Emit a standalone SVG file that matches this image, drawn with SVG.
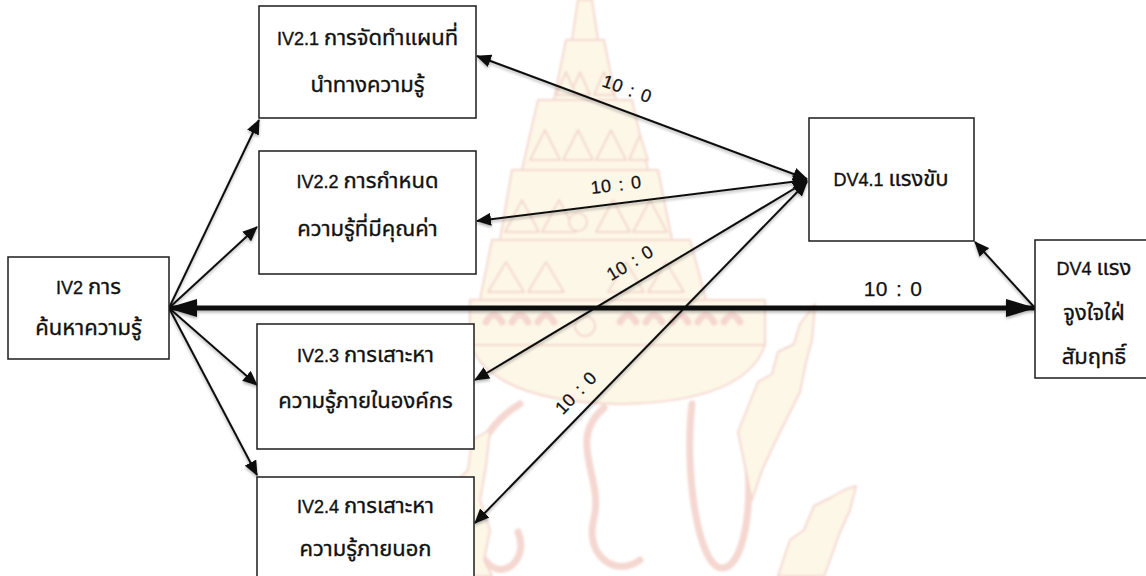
<svg xmlns="http://www.w3.org/2000/svg" width="1146" height="576" viewBox="0 0 1146 576">
  <style>
    .box { fill: #ffffff; stroke: #1c1c1c; stroke-width: 1.5; }
    .lbl { font-family: "Liberation Sans", "Noto Sans Thai", "Noto Sans", sans-serif; font-size: 18px; fill: #111111; stroke: #111111; stroke-width: 0.35px; text-anchor: middle; }
    .th { font-size: 22px; }
    .ratio { font-family: "Liberation Sans", "Noto Sans", sans-serif; font-size: 18px; fill: #111111; stroke: #111111; stroke-width: 0.25px; text-anchor: middle; letter-spacing: 0.3px; word-spacing: 2px; }
    .ratio.big { font-size: 21px; }
    .edge { fill: none; stroke: #111111; stroke-width: 2; }
    .edge.thick { stroke-width: 5; }
    .orn { fill: #fcf1d2; stroke: #eab0a0; stroke-width: 2; stroke-linejoin: round; }
    .orn-line { fill: none; stroke: #ebb0a2; stroke-width: 7; stroke-linecap: round; }
  </style>
  <defs>
    <marker id="head" viewBox="0 0 15 13" refX="14" refY="6.5" markerWidth="15" markerHeight="13" markerUnits="userSpaceOnUse" orient="auto-start-reverse">
      <path d="M0,0 L15,6.5 L0,13 z" fill="#111111"/>
    </marker>
    <marker id="bighead" viewBox="0 0 30 18" refX="29" refY="9" markerWidth="30" markerHeight="18" markerUnits="userSpaceOnUse" orient="auto-start-reverse">
      <path d="M0,0 L30,9 L0,18 z" fill="#111111"/>
    </marker>
    <filter id="shade" x="-5%" y="-20%" width="110%" height="140%">
      <feGaussianBlur in="SourceAlpha" stdDeviation="1.5"/>
      <feOffset dx="0" dy="2" result="b"/>
      <feComponentTransfer><feFuncA type="linear" slope="0.3"/></feComponentTransfer>
      <feMerge><feMergeNode/><feMergeNode in="SourceGraphic"/></feMerge>
    </filter>
    <filter id="soft"><feGaussianBlur stdDeviation="0.8"/></filter>
  </defs>

  <rect width="1146" height="576" fill="#ffffff"/>

  <!-- faded emblem in the background -->
  <g id="emblem" opacity="0.5" filter="url(#soft)">
    <polygon class="orn" points="578,0 592,0 598,40 572,40"/>
    <polygon class="orn" points="554,100 566,40 604,40 616,100"/>
    <polygon class="orn" points="522,170 538,100 632,100 648,170"/>
    <polygon class="orn" points="500,240 512,170 658,170 672,240"/>
    <polygon class="orn" points="480,300 492,240 690,240 706,300"/>
    <g class="orn">
      <polygon points="570,95 580,72 590,95"/>
      <polygon points="594,95 604,72 614,95"/>
      <polygon points="556,95 566,72 576,95"/>
      <polygon points="530,160 545,130 560,160"/>
      <polygon points="563,160 578,130 593,160"/>
      <polygon points="596,160 611,130 626,160"/>
      <polygon points="629,160 640,135 648,160"/>
      <polygon points="505,232 522,200 539,232"/>
      <polygon points="542,232 559,200 576,232"/>
      <polygon points="596,232 613,200 630,232"/>
      <polygon points="633,232 650,200 667,232"/>
      <polygon points="488,292 506,262 524,292"/>
      <polygon points="528,292 546,262 564,292"/>
      <polygon points="608,292 626,262 644,292"/>
      <polygon points="648,292 666,262 684,292"/>
    </g>
    <circle class="orn" cx="578" cy="222" r="9"/>
    <rect class="orn" x="470" y="300" width="295" height="45"/>
    <path class="orn" d="M470,345 L765,345 Q745,402 620,404 Q495,402 470,345 Z"/>
    <circle class="orn" cx="585" cy="326" r="10"/>
    <path class="orn-line" d="M486,322 q8,-14 16,0 M512,322 q8,-14 16,0 M538,322 q8,-14 16,0 M620,322 q8,-14 16,0 M646,322 q8,-14 16,0 M672,322 q8,-14 16,0 M698,322 q8,-14 16,0 M724,322 q8,-14 16,0" stroke-width="3"/>
    <path class="orn-line" d="M692,404 C684,470 698,568 722,568 C748,568 756,480 742,432"/>
    <polygon class="orn" points="738,432 758,382 772,374 778,352 794,344 800,324 815,304 812,340 806,362 800,392 790,412 776,440 762,470 752,500"/>
    <polygon class="orn" points="778,576 790,540 804,530 814,506 830,498 844,490 856,486 850,510 840,532 830,560 824,576"/>
    <path class="orn-line" d="M604,408 C566,440 604,478 594,518 C584,556 616,578 640,560"/>
    <path class="orn-line" d="M520,404 C472,432 452,500 482,556 C500,586 530,560 518,532"/>
    <polygon class="orn" points="452,576 446,540 458,512 452,486 468,470 472,440 490,430 486,466 480,500 490,530 484,560 492,576"/>
  </g>

  <!-- connectors -->
  <g id="connectors" filter="url(#shade)">
    <line class="edge" x1="169" y1="308" x2="259" y2="120" marker-end="url(#head)"/>
    <line class="edge" x1="169" y1="308" x2="257" y2="227" marker-end="url(#head)"/>
    <line class="edge" x1="169" y1="308" x2="257" y2="385" marker-end="url(#head)"/>
    <line class="edge" x1="169" y1="308" x2="257" y2="475" marker-end="url(#head)"/>
    <line class="edge thick" x1="168" y1="308" x2="1035" y2="308" marker-start="url(#bighead)" marker-end="url(#bighead)"/>
    <line class="edge" x1="1035" y1="308" x2="975" y2="242" marker-end="url(#head)"/>
    <line class="edge" x1="807" y1="179" x2="477" y2="56" marker-start="url(#head)" marker-end="url(#head)"/>
    <line class="edge" x1="807" y1="180" x2="477" y2="221" marker-start="url(#head)" marker-end="url(#head)"/>
    <line class="edge" x1="807" y1="181" x2="475" y2="380" marker-start="url(#head)" marker-end="url(#head)"/>
    <line class="edge" x1="807" y1="182" x2="475" y2="523" marker-start="url(#head)" marker-end="url(#head)"/>
  </g>

  <!-- ratio labels -->
  <g id="edge-labels">
    <text class="ratio" transform="translate(627,89) rotate(20)" y="6">10 : 0</text>
    <text class="ratio" transform="translate(616,185) rotate(-7)" y="6">10 : 0</text>
    <text class="ratio" transform="translate(630,263) rotate(-31)" y="6">10 : 0</text>
    <text class="ratio" transform="translate(576,393) rotate(-46)" y="6">10 : 0</text>
    <text class="ratio big" x="893" y="296">10 : 0</text>
  </g>

  <!-- nodes -->
  <g id="iv2">
    <rect class="box" x="8" y="257" width="161" height="102"/>
    <text class="lbl" x="88.5" y="294">IV2 <tspan class="th">การ</tspan></text>
    <text class="lbl th" x="88.5" y="335">ค้นหาความรู้</text>
  </g>
  <g id="iv2-1">
    <rect class="box" x="259" y="6" width="217" height="112"/>
    <text class="lbl" x="367.5" y="45">IV2.1 <tspan class="th">การจัดทำแผนที่</tspan></text>
    <text class="lbl th" x="367.5" y="92">นำทางความรู้</text>
  </g>
  <g id="iv2-2">
    <rect class="box" x="259" y="151" width="217" height="123"/>
    <text class="lbl" x="367.5" y="188">IV2.2 <tspan class="th">การกำหนด</tspan></text>
    <text class="lbl th" x="367.5" y="236">ความรู้ที่มีคุณค่า</text>
  </g>
  <g id="iv2-3">
    <rect class="box" x="257" y="324" width="217" height="125"/>
    <text class="lbl" x="365.5" y="362">IV2.3 <tspan class="th">การเสาะหา</tspan></text>
    <text class="lbl th" x="365.5" y="408">ความรู้ภายในองค์กร</text>
  </g>
  <g id="iv2-4">
    <rect class="box" x="257" y="477" width="217" height="110"/>
    <text class="lbl" x="365.5" y="513">IV2.4 <tspan class="th">การเสาะหา</tspan></text>
    <text class="lbl th" x="365.5" y="556">ความรู้ภายนอก</text>
  </g>
  <g id="dv4-1">
    <rect class="box" x="809" y="118" width="165" height="123"/>
    <text class="lbl" x="891" y="186">DV4.1 <tspan class="th">แรงขับ</tspan></text>
  </g>
  <g id="dv4">
    <rect class="box" x="1035" y="240" width="118" height="138"/>
    <text class="lbl" x="1094" y="275">DV4 <tspan class="th">แรง</tspan></text>
    <text class="lbl th" x="1094" y="320">จูงใจใฝ่</text>
    <text class="lbl th" x="1094" y="364">สัมฤทธิ์</text>
  </g>
</svg>
